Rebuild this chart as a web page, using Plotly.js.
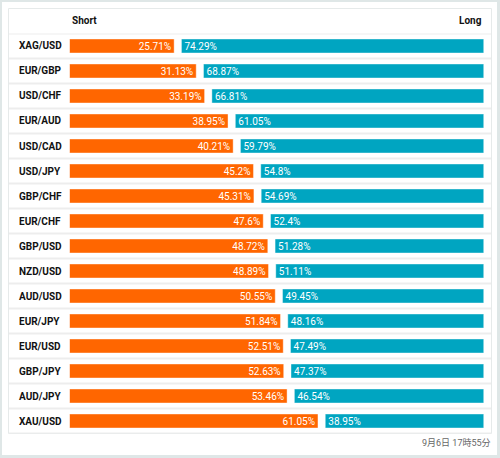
<!DOCTYPE html>
<html>
<head>
<meta charset="utf-8">
<script src="https://cdn.plot.ly/plotly-3.0.1.min.js"></script>
<style>
  html, body { margin: 0; padding: 0; background: #ffffff; }
  #wrap { position: relative; width: 500px; height: 458px; }
  #chart { position: absolute; left: 0; top: 0; width: 500px; height: 458px; }
  #frame { position: absolute; left: 0; top: 0; width: 500px; height: 458px; box-sizing: border-box;
           border-style: solid; border-color: #dfe7e7; border-width: 2px 3px 3px 2px; pointer-events: none; }
</style>
</head>
<body>
<div id="wrap"><div id="chart"></div><div id="frame"></div></div>
<script>
const categories = ["XAG/USD","EUR/GBP","USD/CHF","EUR/AUD","USD/CAD","USD/JPY","GBP/CHF","EUR/CHF","GBP/USD","NZD/USD","AUD/USD","EUR/JPY","EUR/USD","GBP/JPY","AUD/JPY","XAU/USD"];
const shortPct = [25.71,31.13,33.19,38.95,40.21,45.2,45.31,47.6,48.72,48.89,50.55,51.84,52.51,52.63,53.46,61.05];
const longPct  = [74.29,68.87,66.81,61.05,59.79,54.8,54.69,52.4,51.28,51.11,49.45,48.16,47.49,47.37,46.54,38.95];
const headerShort = "Short";
const headerLong = "Long";
const timestamp = "9月6日 17時55分";

const W = 500, H = 458;
const px = v => v / W;
const py = v => (H - v) / H;

const FONT = "Roboto, 'Noto Sans', sans-serif";

const traceShort = {
  type: "bar", orientation: "h",
  y: categories, x: shortPct,
  xaxis: "x", yaxis: "y",
  width: 0.56,
  marker: { color: "#ff6600", line: { color: "rgba(255,255,255,0.4)", width: 1 } },
  text: shortPct.map(v => v + "%"),
  textposition: "inside", insidetextanchor: "end", textangle: 0,
  constraintext: "none",
  textfont: { color: "#ffffff", size: 10, family: FONT },
  hoverinfo: "skip"
};
const traceLong = {
  type: "bar", orientation: "h",
  y: categories, x: longPct, base: shortPct,
  xaxis: "x2", yaxis: "y",
  width: 0.56,
  marker: { color: "#00a5c1", line: { color: "rgba(255,255,255,0.4)", width: 1 } },
  text: longPct.map(v => v + "%"),
  textposition: "inside", insidetextanchor: "start", textangle: 0,
  constraintext: "none",
  textfont: { color: "#ffffff", size: 10, family: FONT },
  hoverinfo: "skip"
};

const shapes = [];
// table border
shapes.push({ type: "rect", xref: "paper", yref: "paper",
  x0: px(8.5), x1: px(491.5), y0: py(433.5), y1: py(8.5),
  line: { color: "#e6eaea", width: 1 }, fillcolor: "rgba(0,0,0,0)", layer: "below" });
// row separators
for (let k = 0; k <= categories.length; k++) {
  shapes.push({ type: "line", xref: "paper", yref: "y",
    x0: px(9), x1: px(491), y0: k - 0.5, y1: k - 0.5,
    line: { color: "#ededed", width: 2 }, layer: "below" });
}

const annotations = [];
categories.forEach(c => {
  annotations.push({ xref: "paper", yref: "y", x: px(16.5), y: c, xanchor: "left", yanchor: "middle",
    text: c, showarrow: false, font: { family: FONT, size: 10, color: "#111111", weight: 700 } });
});
annotations.push({ xref: "paper", yref: "paper", x: px(69.5), y: py(20.5), xanchor: "left", yanchor: "middle",
  text: headerShort, showarrow: false, font: { family: FONT, size: 10, color: "#111111", weight: 700 } });
annotations.push({ xref: "paper", yref: "paper", x: px(484), y: py(20.5), xanchor: "right", yanchor: "middle",
  text: headerLong, showarrow: false, font: { family: FONT, size: 10, color: "#111111", weight: 700 } });
annotations.push({ xref: "paper", yref: "paper", x: px(493), y: py(442.5), xanchor: "right", yanchor: "middle",
  text: timestamp, showarrow: false, font: { family: "Roboto, 'Noto Sans CJK JP', sans-serif", size: 9, color: "#666666" } });

const layout = {
  width: W, height: H,
  margin: { l: 0, r: 0, t: 0, b: 0, pad: 0 },
  paper_bgcolor: "#ffffff", plot_bgcolor: "rgba(0,0,0,0)",
  showlegend: false,
  barmode: "overlay",
  xaxis: { domain: [px(69.5), px(476.5)], range: [0, 100], visible: false, fixedrange: true },
  xaxis2: { domain: [px(76.8), px(483.8)], range: [0, 100], visible: false, anchor: "y", fixedrange: true },
  yaxis: { domain: [py(433.5), py(33.5)], type: "category", categoryorder: "array", categoryarray: categories,
           range: [categories.length - 0.5, -0.5], visible: false, fixedrange: true },
  shapes: shapes,
  annotations: annotations
};

Plotly.newPlot("chart", [traceShort, traceLong], layout, { displayModeBar: false, staticPlot: true });
</script>
</body>
</html>
